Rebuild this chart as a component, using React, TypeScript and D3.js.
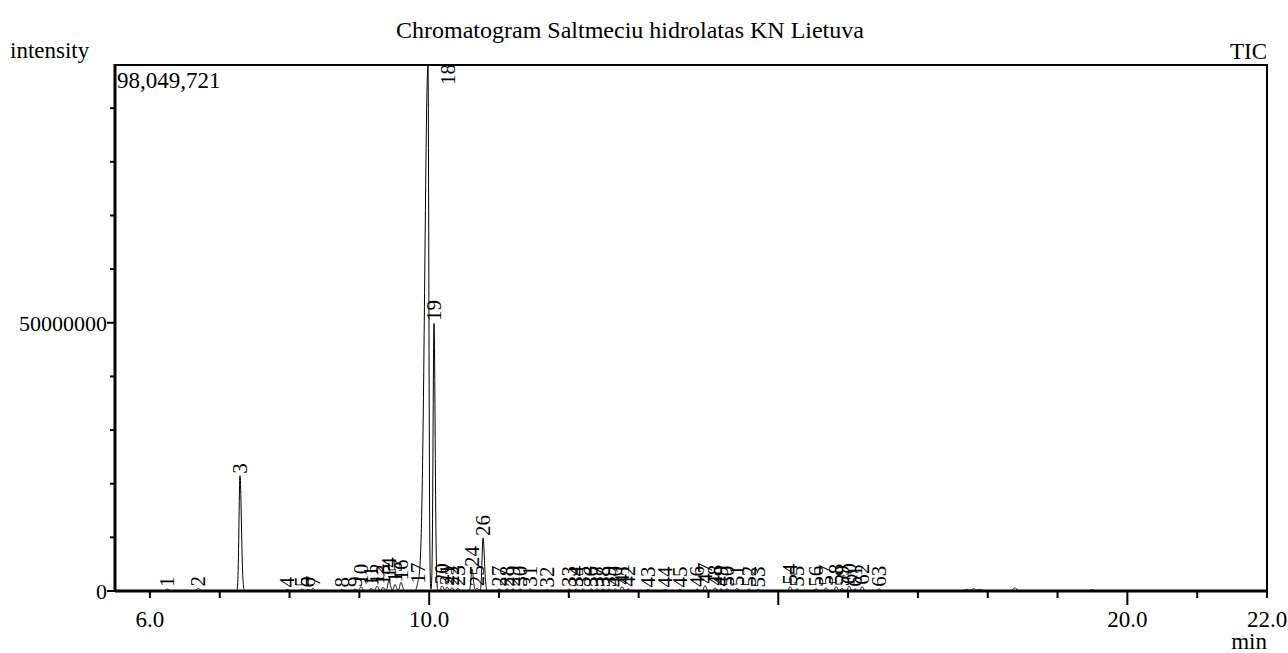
import React, { useEffect, useRef } from 'react';
import * as d3 from 'd3';

const width = 1288;
const height = 653;

const chartTitle = 'Chromatogram Saltmeciu hidrolatas KN Lietuva';
const maxIntensity = 98049721;

// peak table (retention time in min, apex height)
const peakTimes = [
	6.245, 6.689, 7.29, 7.963, 8.178, 8.264, 8.336, 8.751, 8.937, 9.023,
	9.167, 9.253, 9.339, 9.424, 9.51, 9.596, 9.84, 9.983, 10.069, 10.184,
	10.255, 10.327, 10.413, 10.613, 10.685, 10.771, 11.0, 11.114, 11.2, 11.301,
	11.444, 11.687, 12.002, 12.103, 12.203, 12.318, 12.403, 12.489, 12.575, 12.661,
	12.761, 12.847, 13.134, 13.377, 13.592, 13.836, 13.95, 14.093, 14.179, 14.265,
	14.409, 14.58, 14.709, 15.168, 15.268, 15.54, 15.683, 15.827, 15.913, 16.013,
	16.099, 16.199, 16.443,
];
const peakHeights = [
	3.5e5, 4.5e5, 21.5e6, 3e5, 3.5e5, 3e5, 5e5, 3e5, 3.5e5, 8e5,
	5e5, 9e5, 7e5, 2.0e6, 1.2e6, 1.6e6, 1.0e6, 98049721, 49.96e6, 9e5,
	7e5, 6e5, 5e5, 4.1e6, 5e5, 9.88e6, 4e5, 4e5, 4e5, 4e5,
	4e5, 3e5, 3.5e5, 3.5e5, 3.5e5, 3.5e5, 3.5e5, 3.5e5, 3.5e5, 3.5e5,
	8e5, 4e5, 3e5, 3e5, 3e5, 3.5e5, 1.0e6, 6e5, 4e5, 4e5,
	5e5, 4e5, 3e5, 8e5, 4e5, 4e5, 6e5, 8e5, 5e5, 9e5,
	4e5, 8e5, 4e5,
];
// peak widths (sigma, min): leading and trailing side
const peakSigmaLead = [
	0.02, 0.02, 0.014, 0.016, 0.016, 0.016, 0.016, 0.016, 0.016, 0.016,
	0.016, 0.016, 0.016, 0.016, 0.016, 0.016, 0.016, 0.046, 0.013, 0.016,
	0.016, 0.016, 0.016, 0.014, 0.016, 0.014, 0.016, 0.016, 0.016, 0.016,
	0.016, 0.016, 0.016, 0.016, 0.016, 0.016, 0.016, 0.016, 0.016, 0.016,
	0.016, 0.016, 0.016, 0.016, 0.016, 0.016, 0.016, 0.016, 0.016, 0.016,
	0.016, 0.016, 0.016, 0.016, 0.016, 0.016, 0.016, 0.016, 0.016, 0.016,
	0.016, 0.016, 0.016,
];
const peakSigmaTail = [
	0.03, 0.03, 0.02, 0.02, 0.02, 0.02, 0.02, 0.02, 0.02, 0.02,
	0.02, 0.02, 0.02, 0.02, 0.02, 0.02, 0.02, 0.012, 0.016, 0.02,
	0.02, 0.02, 0.02, 0.018, 0.02, 0.02, 0.02, 0.02, 0.02, 0.02,
	0.02, 0.02, 0.02, 0.02, 0.02, 0.02, 0.02, 0.02, 0.02, 0.02,
	0.02, 0.02, 0.02, 0.02, 0.02, 0.02, 0.02, 0.02, 0.02, 0.02,
	0.02, 0.02, 0.02, 0.02, 0.02, 0.02, 0.02, 0.02, 0.02, 0.02,
	0.02, 0.02, 0.02,
];

// small unlabeled bumps late in the run
const minorTimes = [17.7, 17.8, 17.89, 18.39, 19.49];
const minorHeights = [3e5, 4e5, 3e5, 5.5e5, 2.5e5];

const xTickValues = [6, 7, 8, 9, 10, 11, 12, 13, 14, 15, 16, 17, 18, 19, 20, 21, 22];
const xMajorTicks = [10, 15, 20];
const xLabelValues = [6, 10, 20, 22];
const xLabelTexts = ['6.0', '10.0', '20.0', '22.0'];
const yTickValues = [0, 1e7, 2e7, 3e7, 4e7, 5e7, 6e7, 7e7, 8e7, 9e7];
const yLabelValues = [0, 5e7];
const yLabelTexts = ['0', '50000000'];

const font = '"Liberation Serif", "DejaVu Serif", serif';

const Chromatogram = () => {
	const ref = useRef(null);

	useEffect(() => {
		if (!ref.current) return;
		const svg = d3.select(ref.current);
		svg.selectAll('*').remove();

		const m = { l: 115, r: 21, t: 65, b: 62 };
		const x = d3.scaleLinear().domain([5.5, 22]).range([m.l, width - m.r]);
		const y = d3.scaleLinear().domain([0, maxIntensity]).range([height - m.b, m.t]);
		const x0 = m.l, x1 = width - m.r, y0 = height - m.b, y1 = m.t;

		// trace = sum of the peaks in the table
		const peaks = peakTimes.map((t, i) => ({
			id: i + 1, t, h: peakHeights[i], sl: peakSigmaLead[i], st: peakSigmaTail[i],
		}));
		const minors = minorTimes.map((t, i) => ({ t, h: minorHeights[i], sl: 0.03, st: 0.03 }));
		const all = peaks.concat(minors as any);
		const signal = (t) =>
			d3.sum(all, p => {
				const s = t < p.t ? p.sl : p.st;
				const z = (t - p.t) / s;
				return z * z > 60 ? 0 : p.h * Math.exp(-0.5 * z * z);
			});
		const trace = d3.range(5.5, 22.0005, 0.002).map(t => [t, Math.min(signal(t), maxIntensity)]);

		svg.append('clipPath').attr('id', 'plotclip')
			.append('rect').attr('x', x0).attr('y', y1).attr('width', x1 - x0).attr('height', y0 - y1);

		svg.append('path')
			.datum(trace)
			.attr('clip-path', 'url(#plotclip)')
			.attr('fill', 'none')
			.attr('stroke', '#000')
			.attr('stroke-width', 1)
			.attr('d', d3.line().x(d => x(d[0])).y(d => y(d[1])));

		// frame
		const frame = svg.append('g').attr('stroke', '#000');
		frame.append('line').attr('x1', x0).attr('x2', x1).attr('y1', y1).attr('y2', y1).attr('stroke-width', 2);
		frame.append('line').attr('x1', x1).attr('x2', x1).attr('y1', y1 - 1).attr('y2', y0 + 4).attr('stroke-width', 2);
		frame.append('line').attr('x1', x0).attr('x2', x0).attr('y1', y1 - 1).attr('y2', y0 + 1).attr('stroke-width', 3);
		frame.append('line').attr('x1', x0).attr('x2', x1).attr('y1', y0).attr('y2', y0).attr('stroke-width', 3);

		// x ticks
		frame.selectAll('.xt').data(xTickValues).join('line')
			.attr('x1', d => x(d)).attr('x2', d => x(d))
			.attr('y1', y0).attr('y2', d => y0 + (xMajorTicks.includes(d) ? 14 : 7))
			.attr('stroke-width', 2);
		// y ticks
		frame.selectAll('.yt').data(yTickValues).join('line')
			.attr('y1', d => y(d)).attr('y2', d => y(d))
			.attr('x1', x0).attr('x2', d => x0 - (yLabelValues.includes(d) ? 8 : 5))
			.attr('stroke-width', 2);

		const txt = svg.append('g').style('font-family', font).style('font-size', '23px').attr('fill', '#000');

		txt.selectAll('.xl').data(xLabelValues).join('text')
			.attr('x', d => x(d)).attr('y', y0 + 36)
			.attr('text-anchor', 'middle')
			.text((d, i) => xLabelTexts[i]);
		txt.selectAll('.yl').data(yLabelValues).join('text')
			.attr('x', x0 - 8).attr('y', d => y(d) + 8)
			.attr('text-anchor', 'end')
			.style('font-size', '22px')
			.text((d, i) => yLabelTexts[i]);

		txt.append('text').attr('x', 630).attr('y', 38).attr('text-anchor', 'middle').style('font-size', '24px').text(chartTitle);
		txt.append('text').attr('x', 10).attr('y', 58).text('intensity');
		txt.append('text').attr('x', x1).attr('y', 59).attr('text-anchor', 'end').text('TIC');
		txt.append('text').attr('x', x0 + 2).attr('y', y1 + 23).text(d3.format(',')(maxIntensity));
		txt.append('text').attr('x', x1).attr('y', height - 4).attr('text-anchor', 'end').text('min');

		// peak numbers, written upward from each apex
		const labelG = svg.append('g').style('font-family', font).style('font-size', '21px').attr('fill', '#000');
		labelG.selectAll('text').data(peaks).join('text')
			.attr('transform', d => {
				const py = y(Math.min(d.h, maxIntensity));
				if (py - 22 < y1) return `translate(${x(d.t) + 20},${y1 + 20}) rotate(-90)`;
				return `translate(${x(d.t)},${py - 2}) rotate(-90)`;
			})
			.attr('dy', '0.35em')
			.text(d => d.id);
	}, []);

	return <svg ref={ref} width={width} height={height} style={{ position: 'absolute', left: 0, top: 0, background: '#fff' }} />;
};

export default function App() {
	return <Chromatogram />;
}
